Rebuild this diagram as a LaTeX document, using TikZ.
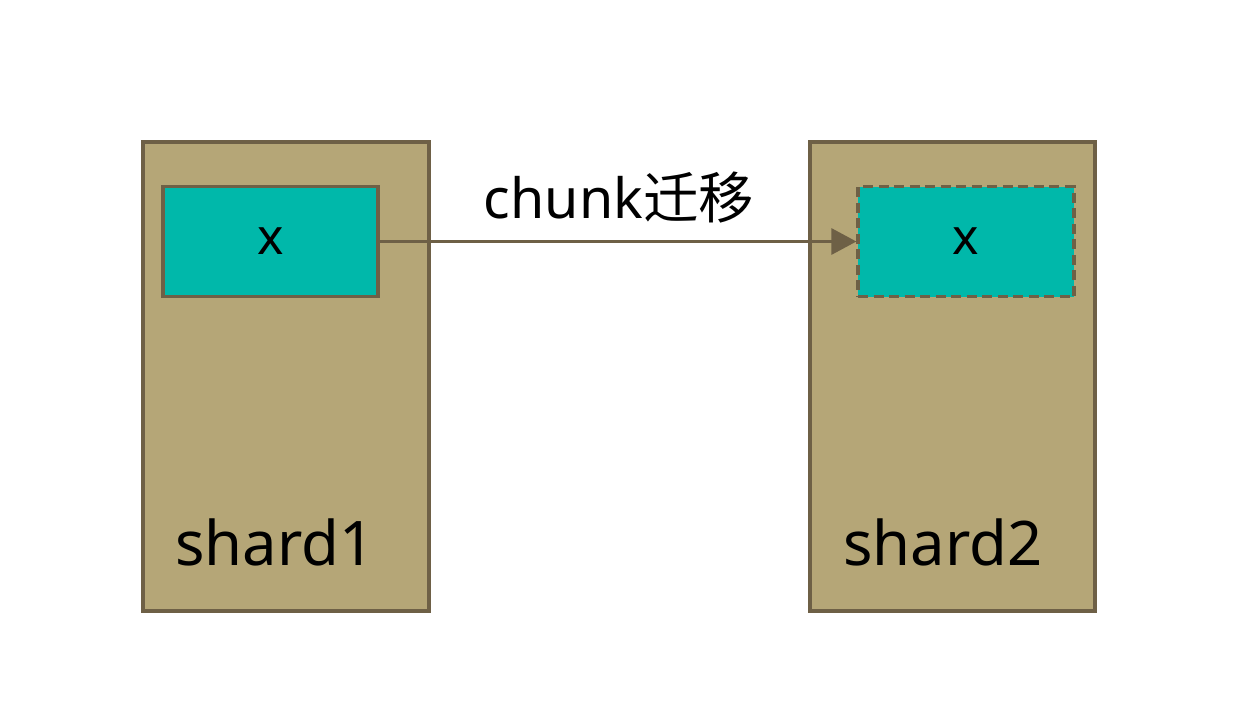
\documentclass[tikz,border=0pt]{standalone}
\usepackage{fontspec}
\setmainfont{Noto Sans}
\newfontfamily\cjk{Noto Sans CJK SC}
\usetikzlibrary{arrows.meta}
\definecolor{shardfill}{HTML}{B5A677}
\definecolor{edge}{HTML}{6E6046}
\definecolor{teal}{HTML}{00B8AA}
\begin{document}
\begin{tikzpicture}[x=1pt,y=-1pt,
  shardbox/.style={draw=edge,fill=shardfill,line width=3.2pt},
  chunkbox/.style={draw=edge,fill=teal,line width=3.2pt},
  lbl/.style={font=\fontsize{61.5}{66}\selectfont,anchor=base,inner sep=0pt}]
\useasboundingbox (0,0) rectangle (1246,724);
\fill[white] (0,0) rectangle (1246,724);
\draw[shardbox] (143,142) rectangle (429,611);
\draw[shardbox] (810,142) rectangle (1095,611);
\node[chunkbox,minimum width=215pt,minimum height=110pt,inner sep=0pt,font=\fontsize{50}{56}\selectfont] (b1) at (270.5,241.5) {x};
\node[chunkbox,dash pattern=on 10pt off 5.5pt,minimum width=216pt,minimum height=110pt,inner sep=0pt,font=\fontsize{50}{56}\selectfont] (b2) at (966,241.5) {x};
\node[lbl] (s1) at (275,565) {shard1};
\node[lbl] (s2) at (943,565) {shard2};
\draw[edge,line width=3pt,-{Triangle[length=25pt,width=26pt]}] (b1.east) -- (b2.west);
\node[font=\fontsize{55.5}{60}\selectfont,anchor=base,inner sep=0pt] (lab) at (619,218) {chunk{\cjk 迁移}};
\end{tikzpicture}
\end{document}
